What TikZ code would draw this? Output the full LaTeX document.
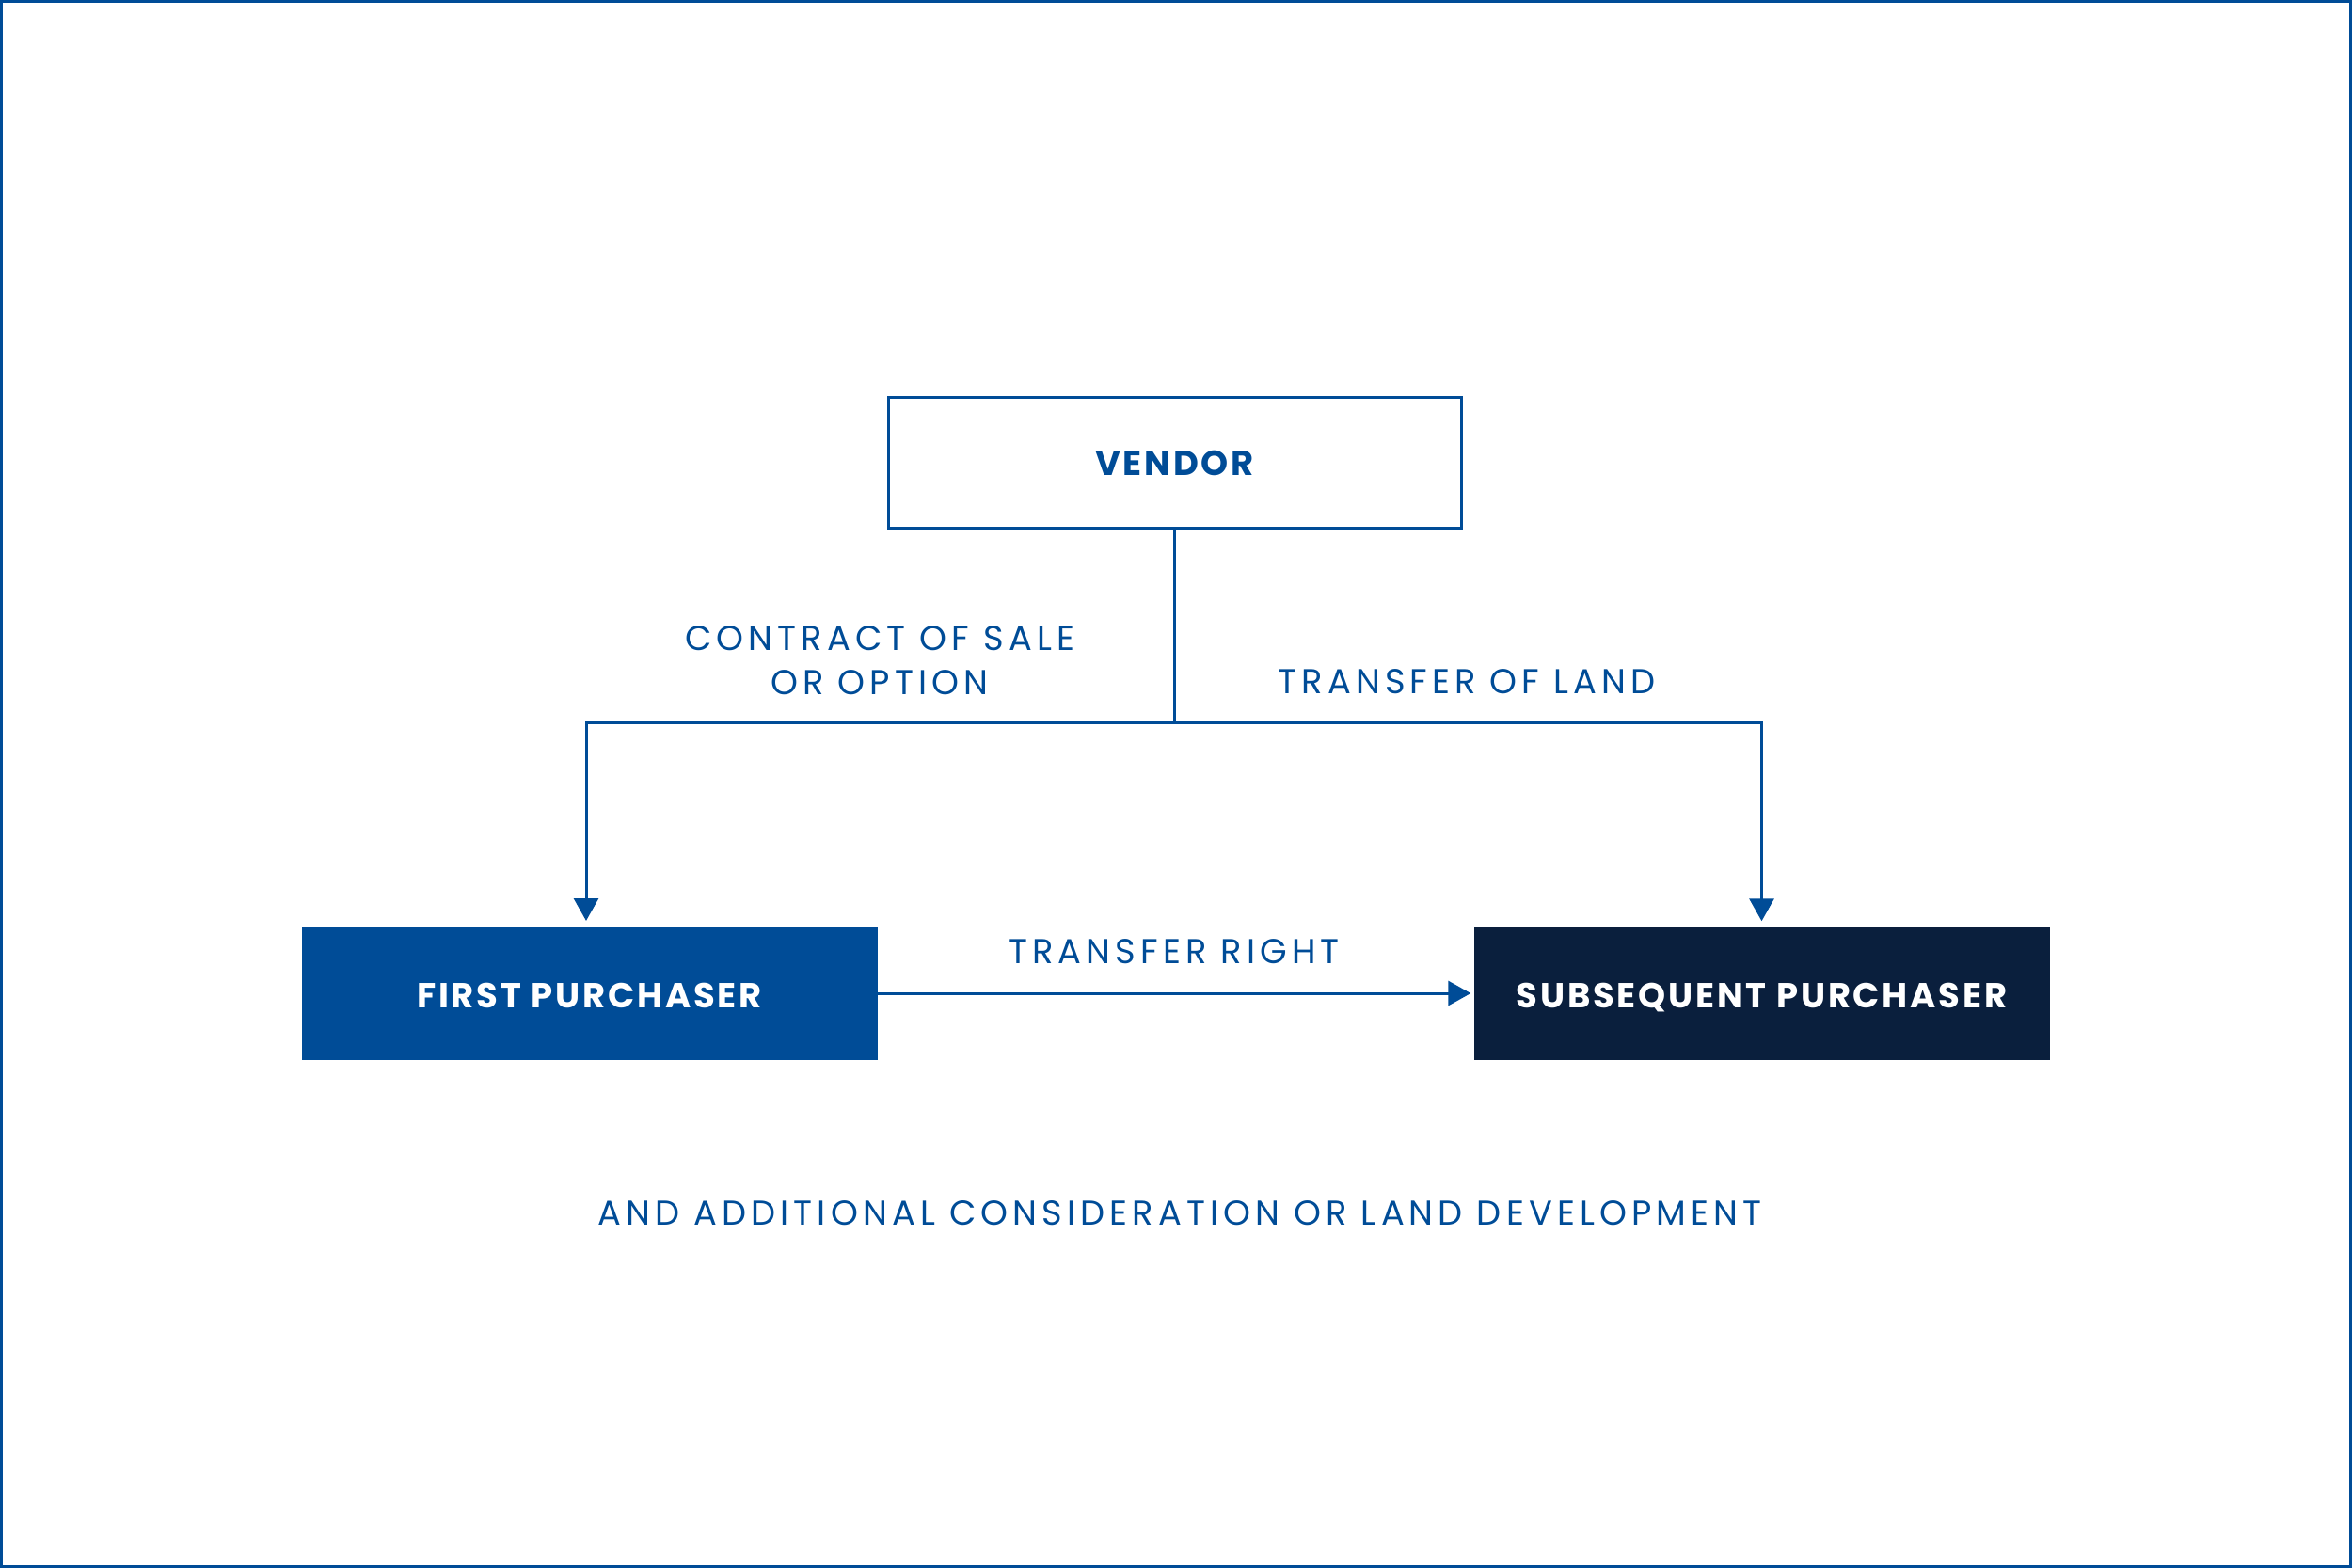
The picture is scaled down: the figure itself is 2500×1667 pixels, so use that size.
\documentclass[tikz,border=0pt]{standalone}
\usepackage{fontspec}
\setmainfont{Poppins}
\newfontfamily\lblfont[LetterSpace=14]{Poppins}
\newfontfamily\boxfont[LetterSpace=7.5]{Poppins}
\usetikzlibrary{arrows.meta}
\definecolor{cblue}{HTML}{004C97}
\definecolor{cnavy}{HTML}{0A1F3D}
\begin{document}
\begin{tikzpicture}[x=1pt,y=-1pt,
  conn/.style={draw=cblue,line width=3pt},
  arr/.style={conn,-{Triangle[length=24pt,width=26pt]}},
  lbl/.style={text=cblue,font=\lblfont\fontsize{36.8}{47}\selectfont,align=center,inner sep=0pt},
  boxtxt/.style={font=\boxfont\fontsize{37}{44}\selectfont\bfseries,inner sep=0pt,text height=31pt,text depth=0pt,minimum width=612pt,minimum height=141pt}]
\useasboundingbox (0,0) rectangle (2500,1667);
\draw[cblue,line width=3pt] (1.5,1.5) rectangle (2498.5,1665.5);
\node[boxtxt,draw=cblue,line width=3pt,text=cblue,minimum width=609pt,minimum height=139pt,text height=28pt] (vendor) at (1248.5,491.5) {VENDOR};
\node[boxtxt,fill=cblue,text=white] (first) at (626.5,1056) {FIRST PURCHASER};
\node[boxtxt,fill=cnavy,text=white] (subs) at (1872.5,1056) {SUBSEQUENT PURCHASER};
\coordinate (branch) at (vendor.south |- 0,768);
\coordinate (lt) at (623,768);
\coordinate (rt) at (subs.north |- 0,768);
\draw[conn] (vendor.south) -- (branch);
\draw[arr] (branch) -- (lt) -- (lt |- 0,979);
\draw[arr] (branch) -- (rt) -- ([yshift=6pt]subs.north);
\draw[arr] (first.east) -- ([xshift=-3pt]subs.west);
\node[lbl] (l1) at (935,702) {CONTRACT OF SALE\\OR OPTION};
\node[lbl] (l2) at (1559,725) {TRANSFER OF LAND};
\node[lbl] (l3) at (1248,1012) {TRANSFER RIGHT};
\node[lbl] (l4) at (1254,1290) {AND ADDITIONAL CONSIDERATION OR LAND DEVELOPMENT};
\end{tikzpicture}
\end{document}
